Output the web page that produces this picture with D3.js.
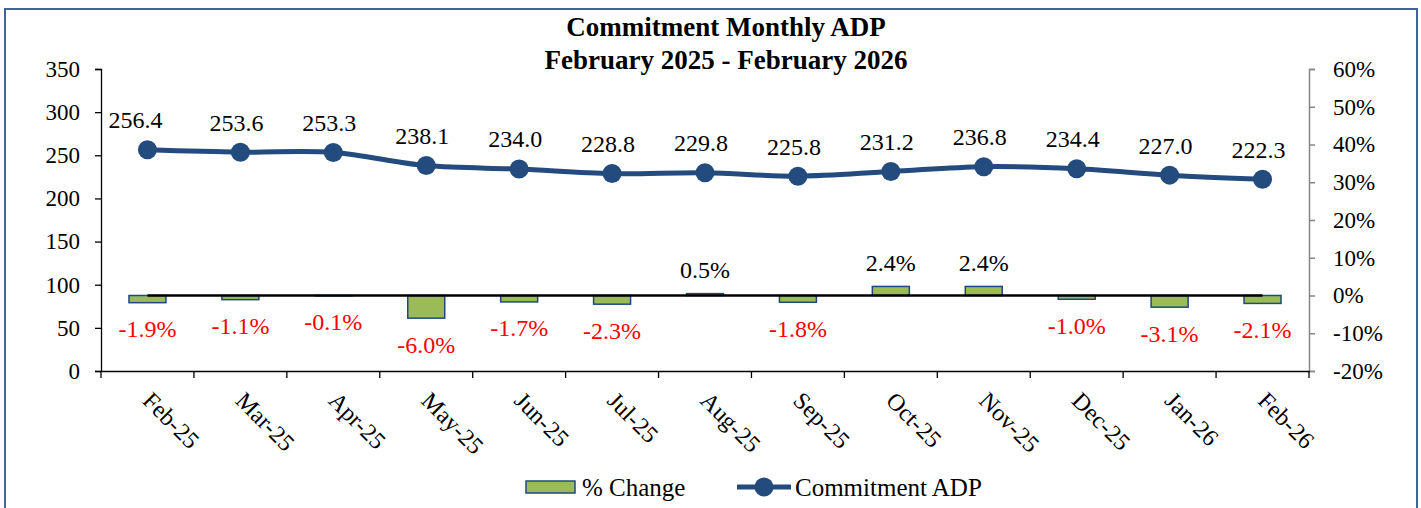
<!DOCTYPE html>
<html lang="en">
<head>
  <meta charset="UTF-8" />
  <title>Commitment Monthly ADP</title>
  <script src="https://d3js.org/d3.v7.min.js"></script>
  <style>
    body { margin: 0; background: #fff; }
    svg { display: block; font-family: "Liberation Serif", "DejaVu Serif", serif; }
    .axis text { font-size: 23px; fill: #000; font-family: "Liberation Serif", "DejaVu Serif", serif; }
    .axis.x text { font-size: 24px; }
  </style>
</head>
<body>
  <div id="chart"></div>

  <script>
    const months = ["Feb-25", "Mar-25", "Apr-25", "May-25", "Jun-25", "Jul-25", "Aug-25",
                    "Sep-25", "Oct-25", "Nov-25", "Dec-25", "Jan-26", "Feb-26"];
    const adp = [256.4, 253.6, 253.3, 238.1, 234.0, 228.8, 229.8, 225.8, 231.2, 236.8, 234.4, 227.0, 222.3];
    const pctChange = [-1.9, -1.1, -0.1, -6.0, -1.7, -2.3, 0.5, -1.8, 2.4, 2.4, -1.0, -3.1, -2.1];
    const leftTicks = [0, 50, 100, 150, 200, 250, 300, 350];
    const rightTicks = [-20, -10, 0, 10, 20, 30, 40, 50, 60];

    const width = 1421, height = 508;
    const margin = { top: 69, right: 112, bottom: 137, left: 101 };
    const navy = "#234b7d";

    const svg = d3.select("#chart").append("svg")
      .attr("width", width)
      .attr("height", height);

    // outer frame
    svg.append("rect")
      .attr("x", 5).attr("y", 9)
      .attr("width", 1412).attr("height", 510)
      .attr("fill", "none")
      .attr("stroke", "#41659b")
      .attr("stroke-width", 2);

    const x = d3.scaleBand()
      .domain(months)
      .range([margin.left, width - margin.right]);

    const y = d3.scaleLinear()
      .domain([0, 350])
      .range([height - margin.bottom, margin.top]);

    const y2 = d3.scaleLinear()
      .domain([-20, 60])
      .range([height - margin.bottom, margin.top]);

    const cx = d => x(d) + x.bandwidth() / 2;

    // title
    const title = svg.append("text")
      .attr("text-anchor", "middle")
      .attr("font-weight", "bold")
      .attr("font-size", 27);
    title.append("tspan").attr("x", 726).attr("y", 36).text("Commitment Monthly ADP");
    title.append("tspan").attr("x", 726).attr("y", 69).text("February 2025 - February 2026");

    // left axis
    const yAxis = svg.append("g")
      .attr("class", "axis")
      .attr("transform", `translate(${margin.left},0)`)
      .call(d3.axisLeft(y).tickValues(leftTicks).tickSize(6).tickPadding(15).tickFormat(d3.format("d")));
    yAxis.selectAll("path, line").attr("stroke", "#000").attr("stroke-width", 1.3);

    // right axis
    const y2Axis = svg.append("g")
      .attr("class", "axis")
      .attr("transform", `translate(${width - margin.right},0)`)
      .call(d3.axisRight(y2).tickValues(rightTicks).tickSize(6).tickPadding(18).tickFormat(d => d + "%"));
    y2Axis.selectAll("path, line").attr("stroke", "#868686").attr("stroke-width", 1.5);

    // bottom axis
    const xAxis = svg.append("g")
      .attr("class", "axis x")
      .attr("transform", `translate(0,${height - margin.bottom})`)
      .call(d3.axisBottom(x).tickSize(0).tickSizeOuter(0));
    xAxis.select(".domain").attr("stroke", "#000").attr("stroke-width", 1.3);
    xAxis.selectAll(".tick text")
      .attr("text-anchor", "start")
      .attr("dy", 0)
      .attr("transform", "translate(-4,29) rotate(45)");
    // ticks between categories
    xAxis.selectAll(".sep")
      .data(months.concat(["end"]))
      .join("line")
      .attr("class", "sep")
      .attr("x1", (d, i) => margin.left + i * x.step())
      .attr("x2", (d, i) => margin.left + i * x.step())
      .attr("y1", 0).attr("y2", 7)
      .attr("stroke", "#000").attr("stroke-width", 1.3);

    // bars (% change)
    const barW = 37;
    svg.append("g")
      .selectAll("rect")
      .data(pctChange)
      .join("rect")
      .attr("x", (d, i) => cx(months[i]) - barW / 2)
      .attr("y", d => y2(Math.max(0, d)))
      .attr("width", barW)
      .attr("height", d => Math.abs(y2(d) - y2(0)))
      .attr("fill", "#9bbb59")
      .attr("stroke", "#1f497d")
      .attr("stroke-width", 1.5);

    // zero line
    svg.append("line")
      .attr("x1", cx(months[0]))
      .attr("x2", cx(months[months.length - 1]))
      .attr("y1", y2(0)).attr("y2", y2(0))
      .attr("stroke", "#000")
      .attr("stroke-width", 2.5);

    // bar labels
    svg.append("g")
      .selectAll("text")
      .data(pctChange)
      .join("text")
      .attr("x", (d, i) => cx(months[i]))
      .attr("y", d => d < 0 ? y2(d) + 26 : y2(d) - 24)
      .attr("dy", "0.35em")
      .attr("text-anchor", "middle")
      .attr("font-size", 24)
      .attr("fill", d => d < 0 ? "#ff0000" : "#000")
      .text(d => d.toFixed(1) + "%");

    // ADP line
    const line = d3.line()
      .x((d, i) => cx(months[i]))
      .y(d => y(d))
      .curve(d3.curveCatmullRom.alpha(0.5));

    svg.append("path")
      .datum(adp)
      .attr("fill", "none")
      .attr("stroke", navy)
      .attr("stroke-width", 5)
      .attr("d", line);

    svg.append("g")
      .selectAll("circle")
      .data(adp)
      .join("circle")
      .attr("cx", (d, i) => cx(months[i]))
      .attr("cy", d => y(d))
      .attr("r", 9.5)
      .attr("fill", navy);

    svg.append("g")
      .selectAll("text")
      .data(adp)
      .join("text")
      .attr("x", (d, i) => cx(months[i]) - (i === 0 ? 12 : 4))
      .attr("y", d => y(d) - 30)
      .attr("dy", "0.35em")
      .attr("text-anchor", "middle")
      .attr("font-size", 24)
      .attr("fill", "#000")
      .text(d => d.toFixed(1));

    // legend
    const legend = svg.append("g").attr("font-size", 25);
    legend.append("rect")
      .attr("x", 526).attr("y", 481)
      .attr("width", 49).attr("height", 12)
      .attr("fill", "#9bbb59")
      .attr("stroke", "#1f497d")
      .attr("stroke-width", 1.5);
    legend.append("text")
      .attr("x", 582).attr("y", 487).attr("dy", "0.35em")
      .text("% Change");
    legend.append("line")
      .attr("x1", 737).attr("x2", 791)
      .attr("y1", 487).attr("y2", 487)
      .attr("stroke", navy).attr("stroke-width", 5);
    legend.append("circle")
      .attr("cx", 764).attr("cy", 487).attr("r", 9.5)
      .attr("fill", navy);
    legend.append("text")
      .attr("x", 795).attr("y", 487).attr("dy", "0.35em")
      .text("Commitment ADP");
  </script>
</body>
</html>
